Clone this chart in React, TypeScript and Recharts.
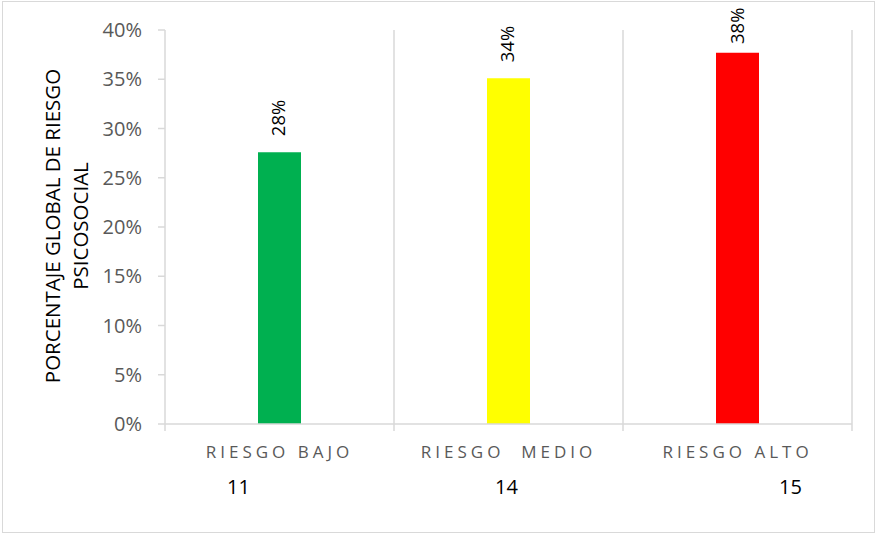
import React from 'react';
import { BarChart, Bar, XAxis, YAxis, CartesianGrid, Cell, LabelList } from 'recharts';

const categories = ['RIESGO BAJO', 'RIESGO  MEDIO', 'RIESGO ALTO'];
const counts = ['11', '14', '15'];
const values = [0.276, 0.351, 0.377];
const valueLabels = ['28%', '34%', '38%'];
const colors = ['#00B050', '#FFFF00', '#FF0000'];
const yTicks = [0, 0.05, 0.1, 0.15, 0.2, 0.25, 0.3, 0.35, 0.4];
const yTitle = ['PORCENTAJE GLOBAL DE RIESGO', 'PSICOSOCIAL'];

const data = categories.map((c, i) => ({ name: c, value: values[i], label: valueLabels[i] }));

const W = 882;
const H = 536;
const X_H = 30;
const MARGIN = { top: 30, right: 30, bottom: 112 - X_H, left: 0 };
const Y_W = 165;
const PLOT_W = W - MARGIN.right - Y_W;
const BAND = PLOT_W / categories.length;
const FONT = '"Open Sans", "Noto Sans", sans-serif';
const countDx = [-41, -2, 53];

const CategoryTick = (props: any) => {
  const { x, y, payload, index } = props;
  return (
    <g>
      <line x1={x - BAND / 2} y1={y} x2={x - BAND / 2} y2={y + 7} stroke="#d9d9d9" strokeWidth={1.5} />
      {index === categories.length - 1 && (
        <line x1={x + BAND / 2} y1={y} x2={x + BAND / 2} y2={y + 7} stroke="#d9d9d9" strokeWidth={1.5} />
      )}
      <text
        x={x}
        y={y + 34}
        textAnchor="middle"
        fill="#595959"
        fontSize={17}
        fontFamily={FONT}
        letterSpacing={4}
        style={{ whiteSpace: 'pre' }}
      >
        {payload.value}
      </text>
      <text x={x + countDx[index]} y={y + 70} textAnchor="middle" fill="#000" fontSize={20} fontFamily={FONT}>
        {counts[index]}
      </text>
    </g>
  );
};

const ValueLabel = (props: any) => {
  const { x, y, width, index } = props;
  const cx = x + width / 2 + 6;
  const start = Math.max(y - 16, 44);
  return (
    <text
      x={cx}
      y={start}
      transform={`rotate(-90 ${cx} ${start})`}
      textAnchor="start"
      fill="#000"
      fontSize={18.5}
      fontFamily={FONT}
    >
      {valueLabels[index]}
    </text>
  );
};

const YTitle = () => (
  <g>
    <text x={60} y={226} transform="rotate(-90 60 226)" textAnchor="middle" fill="#000" fontSize={20.5} fontFamily={FONT}>
      {yTitle[0]}
    </text>
    <text x={88} y={226} transform="rotate(-90 88 226)" textAnchor="middle" fill="#000" fontSize={20.5} fontFamily={FONT}>
      {yTitle[1]}
    </text>
  </g>
);

export default function App() {
  return (
    <div style={{ position: 'fixed', left: 0, top: 0, width: W, height: H, background: '#fff' }}>
      <div
        style={{
          position: 'absolute',
          left: 2,
          top: 1,
          width: 873,
          height: 532,
          border: '1.5px solid #d9d9d9',
          boxSizing: 'border-box',
        }}
      />
      <BarChart width={W} height={H} data={data} margin={MARGIN}>
        <CartesianGrid
          horizontal={false}
          stroke="#d9d9d9"
          strokeWidth={1.5}
          verticalCoordinatesGenerator={({ offset }: any) => [
            offset.left + offset.width / 3,
            offset.left + (2 * offset.width) / 3,
            offset.left + offset.width,
          ]}
        />
        <XAxis
          dataKey="name"
          height={X_H}
          axisLine={{ stroke: '#d9d9d9', strokeWidth: 1.5 }}
          tickLine={false}
          tickSize={0}
          tickMargin={0}
          interval={0}
          tick={<CategoryTick />}
        />
        <YAxis
          width={Y_W}
          domain={[0, 0.4]}
          ticks={yTicks}
          interval={0}
          tickFormatter={(v: number) => `${Math.round(v * 100)}%`}
          axisLine={{ stroke: '#d9d9d9', strokeWidth: 1.5 }}
          tickLine={{ stroke: '#d9d9d9', strokeWidth: 1.5 }}
          tickSize={7}
          tickMargin={16}
          tick={{ fill: '#595959', fontSize: 20, fontFamily: FONT }}
        />
        <Bar dataKey="value" barSize={43} isAnimationActive={false}>
          {data.map((d, i) => (
            <Cell key={d.name} fill={colors[i]} />
          ))}
          <LabelList dataKey="label" content={<ValueLabel />} />
        </Bar>
      </BarChart>
      <svg width={W} height={H} style={{ position: 'absolute', left: 0, top: 0, pointerEvents: 'none' }}>
        <YTitle />
      </svg>
    </div>
  );
}
